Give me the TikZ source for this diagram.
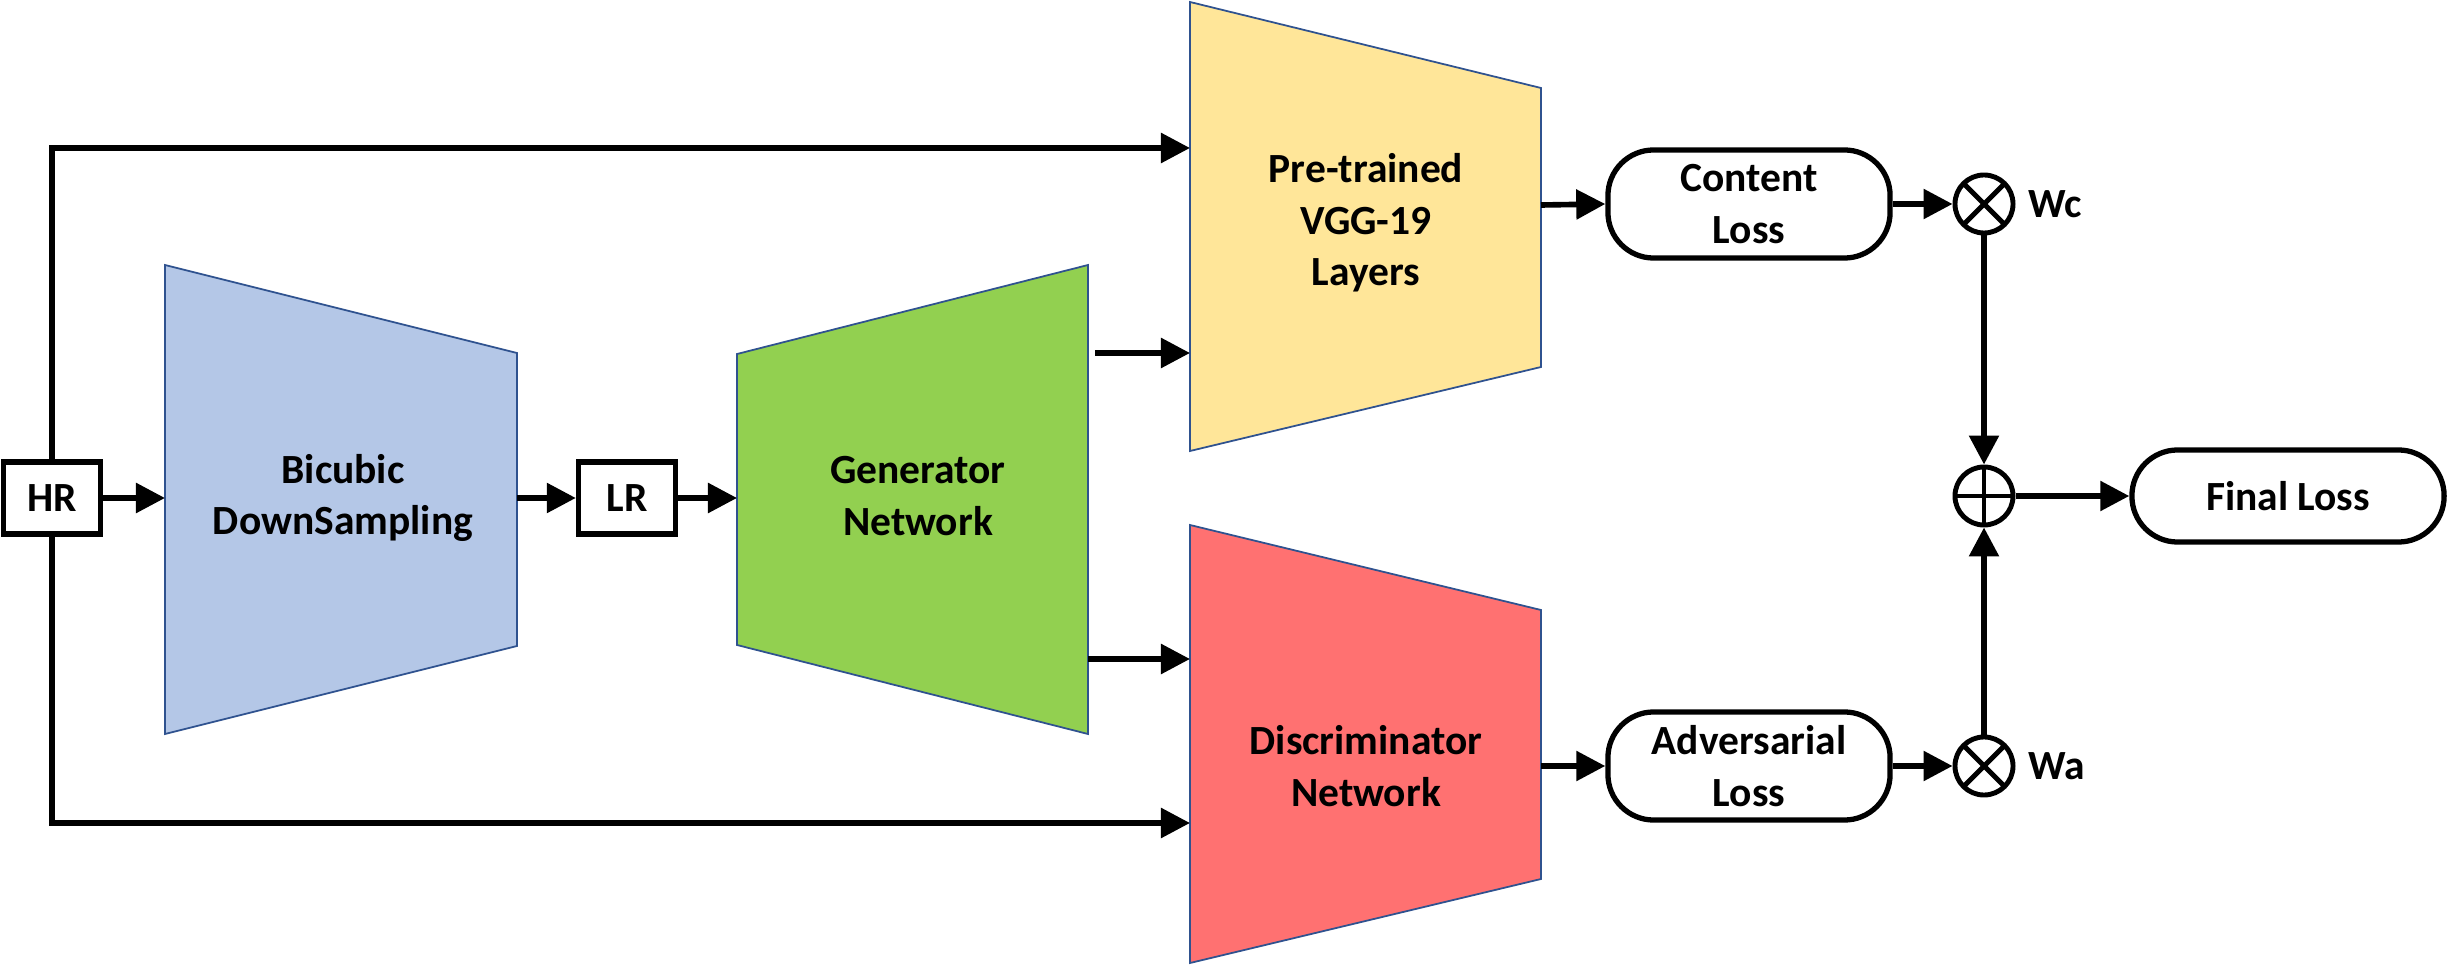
\documentclass[tikz,border=0pt]{standalone}
\usepackage{fontspec}
\setmainfont{Carlito}
\usepackage{tikz}
\usetikzlibrary{arrows.meta, positioning}

\definecolor{netline}{HTML}{2F528F}
\definecolor{bicubicfill}{HTML}{B4C7E7}
\definecolor{genfill}{HTML}{92D050}
\definecolor{vggfill}{HTML}{FFE699}
\definecolor{disfill}{HTML}{FF7171}

\begin{document}
\begin{tikzpicture}[x=0.01cm, y=-0.01cm, >={Triangle[length=0.29cm,width=0.29cm]}, line width=1.6pt, font=\bfseries\fontsize{11.8}{14.6}\selectfont]
    \tikzstyle{io}=[shape=rectangle, fill=white, draw=black, line width=1.5pt, minimum width=0.97cm, minimum height=0.72cm, inner sep=0pt]
    \tikzstyle{loss}=[shape=rectangle, rounded corners=13pt, draw=black, line width=1.5pt, minimum width=2.82cm, minimum height=1.08cm, align=center]
    \tikzstyle{net}=[draw=netline, line width=0.5pt]
    \tikzstyle{netlabel}=[shape=rectangle, draw=none, align=center, inner sep=0pt]
    \tikzstyle{op}=[shape=circle, draw=black, line width=1.4pt, minimum size=0.58cm, inner sep=0pt]
    \tikzstyle{mult}=[op, path picture={\draw[line width=1.4pt] (path picture bounding box.north west) -- (path picture bounding box.south east) (path picture bounding box.south west) -- (path picture bounding box.north east);}]
    \tikzstyle{plus}=[op, path picture={\draw[line width=1.4pt] (path picture bounding box.north) -- (path picture bounding box.south) (path picture bounding box.west) -- (path picture bounding box.east);}]

    \useasboundingbox (0,0) rectangle (2448,967);

    % networks
    \filldraw[net, fill=bicubicfill] (165,265) -- (517,353) -- (517,646) -- (165,734) -- cycle;
    \filldraw[net, fill=genfill]     (737,354) -- (1088,265) -- (1088,734) -- (737,645) -- cycle;
    \filldraw[net, fill=vggfill]     (1190,2) -- (1541,88) -- (1541,367) -- (1190,451) -- cycle;
    \filldraw[net, fill=disfill]     (1190,525) -- (1541,610) -- (1541,879) -- (1190,963) -- cycle;

    \node[netlabel] (bicubic) at (343,498)  {Bicubic\\DownSampling};
    \node[netlabel] (gen)     at (918,496)  {Generator\\Network};
    \node[netlabel] (vgg)     at (1366,223) {Pre-trained\\VGG-19\\Layers};
    \node[netlabel] (dis)     at (1366,766) {Discriminator\\Network};

    \coordinate (bic-in)   at (165,498);
    \coordinate (bic-out)  at (517,498);
    \coordinate (gen-in)   at (737,498);
    \coordinate (gen-out1) at (1095,353);
    \coordinate (gen-out2) at (1088,659);
    \coordinate (vgg-in1)  at (1190,148);
    \coordinate (vgg-in2)  at (1190,353);
    \coordinate (vgg-out)  at (1541,205);
    \coordinate (dis-in1)  at (1190,659);
    \coordinate (dis-in2)  at (1190,823);
    \coordinate (dis-out)  at (1541,766);

    % inputs, losses, weights
    \node[io]   (hr)      at (52,498)   {HR};
    \node[io]   (lr)      at (627,498)  {LR};
    \node[loss] (content) at (1749,204) {Content\\Loss};
    \node[loss] (adv)     at (1749,766) {Adversarial\\Loss};
    \node[mult] (wc)      at (1984,204) {};
    \node[mult] (wa)      at (1984,766) {};
    \node[plus] (sum)     at (1984,496) {};
    \node[loss, minimum width=3.12cm, minimum height=0.92cm] (final) at (2288,496) {Final Loss};
    \node[netlabel, right=0.1cm of wc] (wc-lbl) {Wc};
    \node[netlabel, right=0.1cm of wa] (wa-lbl) {Wa};

    \path
    (hr.east)    edge[->] (bic-in)
    (bic-out)    edge[->] (lr.west)
    (lr.east)    edge[->] (gen-in)
    (gen-out1)   edge[->] (vgg-in2)
    (gen-out2)   edge[->] (dis-in1)
    (vgg-out)    edge[->] (content.west)
    (dis-out)    edge[->] (adv.west)
    (content.east) edge[->] (wc.west)
    (adv.east)   edge[->] (wa.west)
    (wc.south)   edge[->] (sum.north)
    (wa.north)   edge[->] (sum.south)
    (sum.east)   edge[->] (final.west)
            ;
    \draw[->] (hr.north) |- (vgg-in1);
    \draw[->] (hr.south) |- (dis-in2);

\end{tikzpicture}
\end{document}
